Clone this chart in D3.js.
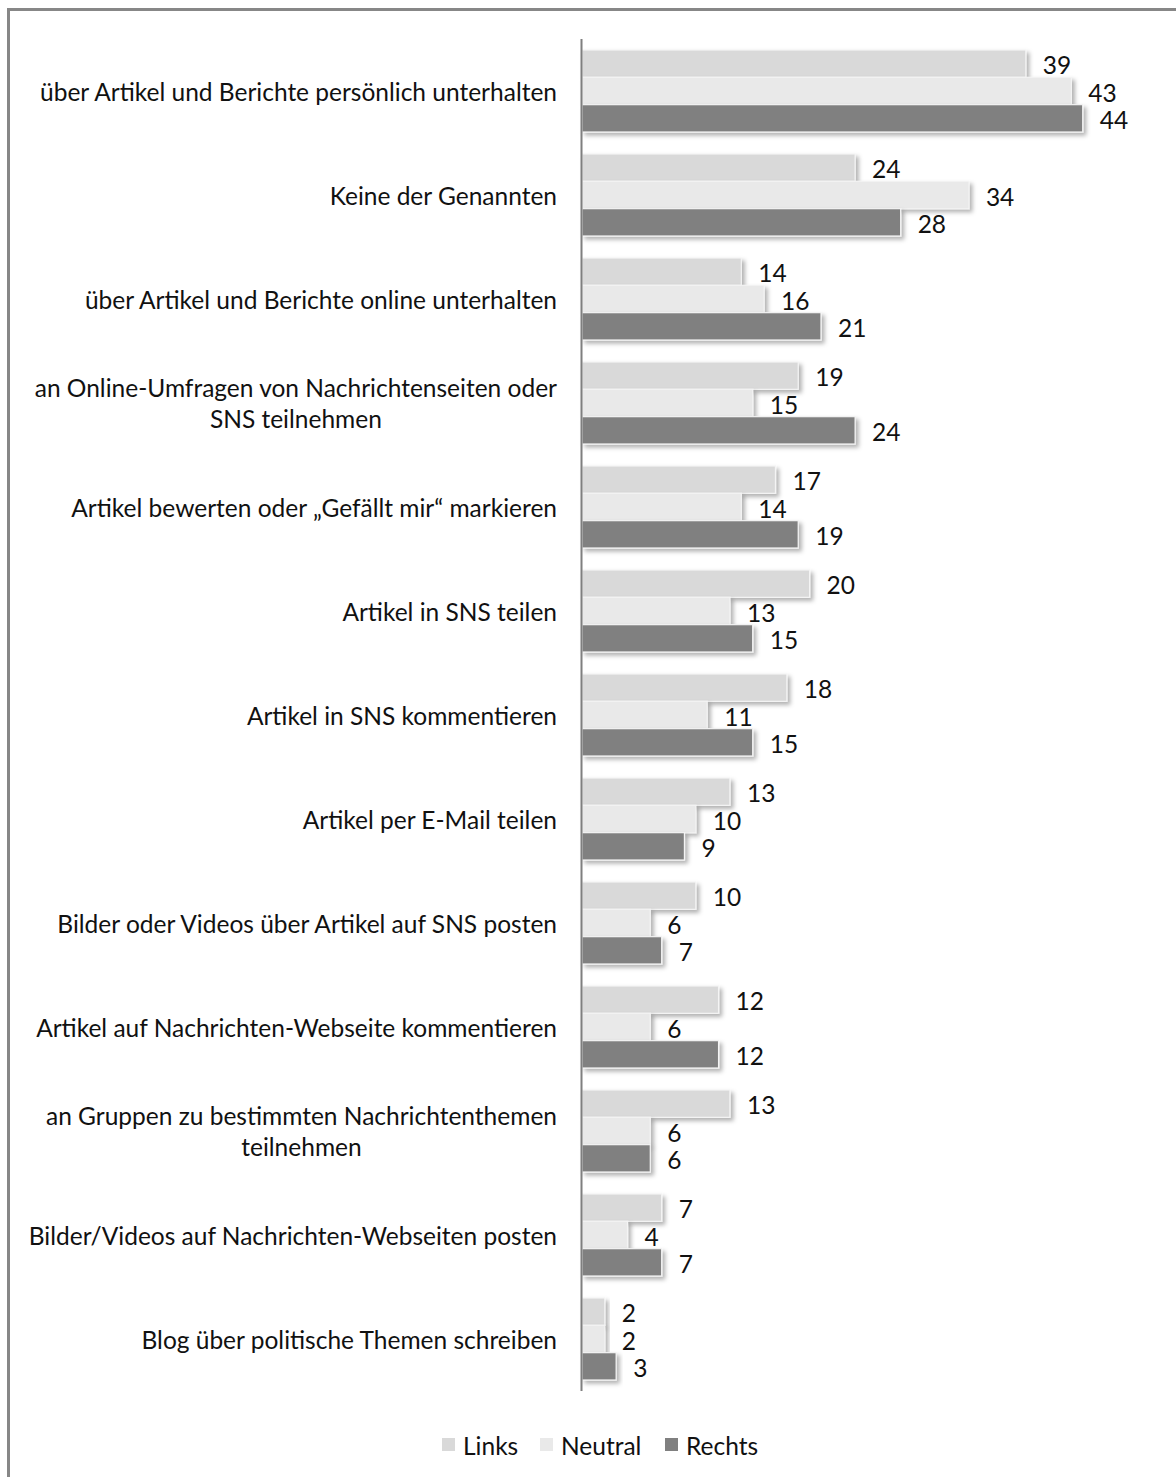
<!DOCTYPE html>
<html>
<head>
<meta charset="utf-8">
<script src="https://cdn.jsdelivr.net/npm/d3@7/dist/d3.min.js"></script>
<style>
  html, body { margin: 0; padding: 0; background: #fff; }
  svg { display: block; }
  text { font-family: Lato, "Open Sans", sans-serif; fill: #111; }
</style>
</head>
<body>
<svg id="chart" width="1176" height="1477"></svg>
<script>
// Activity categories (each entry is a list of label lines)
const categories = [
  ["über Artikel und Berichte persönlich unterhalten"],
  ["Keine der Genannten"],
  ["über Artikel und Berichte online unterhalten"],
  ["an Online-Umfragen von Nachrichtenseiten oder", "SNS teilnehmen"],
  ["Artikel bewerten oder „Gefällt mir“ markieren"],
  ["Artikel in SNS teilen"],
  ["Artikel in SNS kommentieren"],
  ["Artikel per E-Mail teilen"],
  ["Bilder oder Videos über Artikel auf SNS posten"],
  ["Artikel auf Nachrichten-Webseite kommentieren"],
  ["an Gruppen zu bestimmten Nachrichtenthemen", "teilnehmen"],
  ["Bilder/Videos auf Nachrichten-Webseiten posten"],
  ["Blog über politische Themen schreiben"]
];

const seriesNames = ["Links", "Neutral", "Rechts"];
const links   = [39, 24, 14, 19, 17, 20, 18, 13, 10, 12, 13, 7, 2];
const neutral = [43, 34, 16, 15, 14, 13, 11, 10, 6, 6, 6, 4, 2];
const rechts  = [44, 28, 21, 24, 19, 15, 15, 9, 7, 12, 6, 7, 3];
const seriesValues = [links, neutral, rechts];
const seriesColors = ["#d9d9d9", "#e9e9e9", "#808080"];

const FONT = 24.5;
const svg = d3.select("#chart");

// outer frame
svg.append("rect")
  .attr("x", 8.5).attr("y", 9.5)
  .attr("width", 1200).attr("height", 1500)
  .attr("fill", "none").attr("stroke", "#878787").attr("stroke-width", 3);

// soft drop shadow for bars
const defs = svg.append("defs");
const f = defs.append("filter").attr("id", "shadow")
  .attr("x", "-10%").attr("y", "-30%").attr("width", "130%").attr("height", "180%");
f.append("feDropShadow")
  .attr("dx", 3).attr("dy", 3).attr("stdDeviation", 2)
  .attr("flood-color", "#000").attr("flood-opacity", 0.3);

const x0 = 582;
const x = d3.scaleLinear().domain([0, 50]).range([x0, x0 + 50 * 11.38]);

const y = d3.scaleBand()
  .domain(d3.range(categories.length))
  .range([39, 1391])
  .paddingInner(22 / 104)
  .paddingOuter(11 / 104);

const ySub = d3.scaleBand()
  .domain(d3.range(seriesNames.length))
  .range([0, y.bandwidth()]);

const groups = svg.append("g").selectAll("g")
  .data(categories)
  .join("g")
  .attr("transform", (d, i) => `translate(0,${y(i)})`);

groups.each(function (cat, i) {
  const g = d3.select(this);
  seriesNames.forEach((s, k) => {
    const v = seriesValues[k][i];
    g.append("rect")
      .attr("x", x(0))
      .attr("y", ySub(k))
      .attr("width", x(v) - x(0))
      .attr("height", ySub.bandwidth())
      .attr("fill", seriesColors[k])
      .attr("stroke", "#f4f4f4")
      .attr("stroke-width", 1.2)
      .attr("filter", "url(#shadow)");
    g.append("text")
      .attr("x", x(v) + 17)
      .attr("y", ySub(k) + ySub.bandwidth() / 2 + 1)
      .attr("dominant-baseline", "central")
      .attr("font-size", FONT)
      .text(v);
  });
});

// category labels: block right-aligned at the axis, lines centred within the block
const labelRight = 557;
const lineH = 31;
const labels = svg.append("g");
categories.forEach((lines, i) => {
  const cy = y(i) + y.bandwidth() / 2;
  const t = labels.append("text")
    .attr("font-size", FONT)
    .attr("text-anchor", "middle");
  const spans = lines.map((ln, j) => t.append("tspan")
    .attr("y", cy + (j - (lines.length - 1) / 2) * lineH)
    .attr("dominant-baseline", "central")
    .text(ln));
  const w = d3.max(spans, s => s.node().getComputedTextLength());
  spans.forEach(s => s.attr("x", labelRight - w / 2));
});

// vertical category axis
svg.append("line")
  .attr("x1", x0 - 0.5).attr("x2", x0 - 0.5)
  .attr("y1", 39).attr("y2", 1391)
  .attr("stroke", "#7f7f7f").attr("stroke-width", 2);

// legend
const legendX = [442, 540, 665];
const legend = svg.append("g");
seriesNames.forEach((s, k) => {
  legend.append("rect")
    .attr("x", legendX[k]).attr("y", 1438)
    .attr("width", 13).attr("height", 13)
    .attr("fill", seriesColors[k]);
  legend.append("text")
    .attr("x", legendX[k] + 21).attr("y", 1445)
    .attr("dominant-baseline", "central")
    .attr("font-size", FONT)
    .text(s);
});
</script>
</body>
</html>
